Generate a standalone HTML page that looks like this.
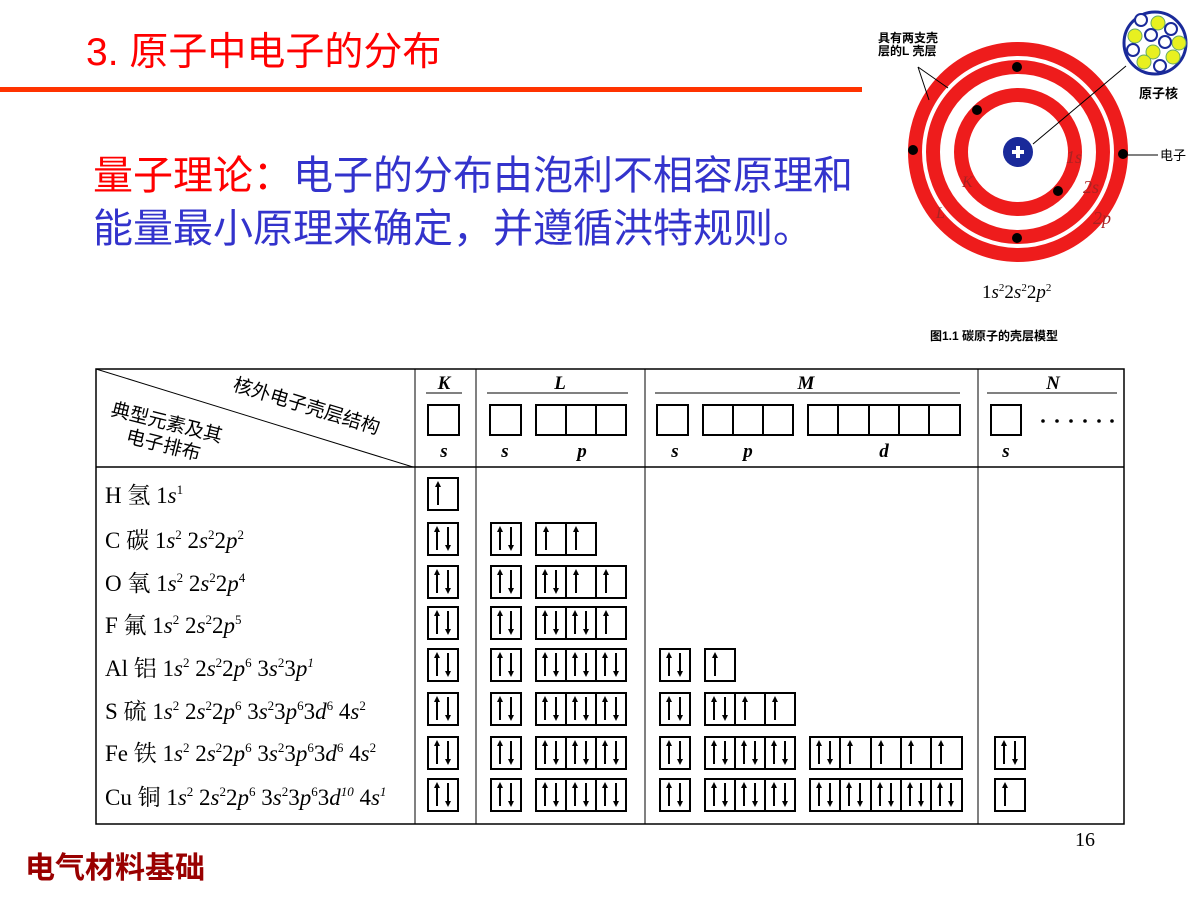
<!DOCTYPE html>
<html><head><meta charset="utf-8"><style>
body{margin:0;width:1200px;height:900px;background:#fff;overflow:hidden;position:relative}
.t{position:absolute;white-space:nowrap}
</style></head><body>
<div class="t" style="left:86px;top:21px;font:39px 'Liberation Sans','Noto Sans CJK SC',sans-serif;color:#ff0000">3. 原子中电子的分布</div>
<div style="position:absolute;left:0;top:87px;width:862px;height:5px;background:#ff3300"></div>
<div class="t" style="left:93px;top:150px;font:40px 'Liberation Sans','Noto Sans CJK SC',sans-serif;color:#3333cc;line-height:53px"><span style="color:#ff0000">量子理论：</span>电子的分布由泡利不相容原理和<br>能量最小原理来确定，并遵循洪特规则。</div>
<div class="t" style="left:25px;top:843px;font:bold 30px 'Liberation Sans','Noto Sans CJK SC',sans-serif;color:#990000">电气材料基础</div>
<div class="t" style="left:1075px;top:829px;font:20px 'Liberation Serif',serif">16</div>

<svg width="1200" height="900" style="position:absolute;left:0;top:0">
<defs>
<g id="u"><line x1="10" y1="27" x2="10" y2="7" stroke="#000" stroke-width="2"/><path d="M7,9 L10,3 L13,9Z"/></g>
<g id="ud"><line x1="9" y1="27" x2="9" y2="7" stroke="#000" stroke-width="2"/><path d="M6,9 L9,3 L12,9Z"/><line x1="20" y1="4" x2="20" y2="24" stroke="#000" stroke-width="2"/><path d="M17,22 L20,28 L23,22Z"/></g>
</defs>
<!-- atom -->
<g>
<circle cx="1018" cy="152" r="103" fill="none" stroke="#ee1c1c" stroke-width="14"/>
<circle cx="1018" cy="152" r="85" fill="none" stroke="#ee1c1c" stroke-width="14"/>
<circle cx="1018" cy="152" r="57" fill="none" stroke="#ee1c1c" stroke-width="14"/>
<circle cx="1018" cy="152" r="15" fill="#1a2a9a"/>
<path d="M1012,152h12M1018,146v12" stroke="#fff" stroke-width="4"/>
<circle cx="1017" cy="67" r="5"/><circle cx="1017" cy="238" r="5"/><circle cx="913" cy="150" r="5"/><circle cx="1123" cy="154" r="5"/><circle cx="977" cy="110" r="5"/><circle cx="1058" cy="191" r="5"/>
<line x1="1128" y1="155" x2="1158" y2="155" stroke="#000"/>
<line x1="1126" y1="66" x2="1033" y2="144" stroke="#000"/>
<line x1="918" y1="67" x2="929" y2="100" stroke="#000"/><line x1="918" y1="67" x2="948" y2="88" stroke="#000"/>
<circle cx="1155" cy="43" r="31" fill="#fff" stroke="#1a2a9a" stroke-width="3"/>
<g fill="#e8f020" stroke="#6a6"><circle cx="1158" cy="23" r="7"/><circle cx="1135" cy="36" r="7"/><circle cx="1179" cy="43" r="7"/><circle cx="1153" cy="52" r="7"/><circle cx="1173" cy="57" r="7"/><circle cx="1144" cy="62" r="7"/></g>
<g fill="#fff" stroke="#1a2a9a" stroke-width="2"><circle cx="1141" cy="20" r="6"/><circle cx="1171" cy="29" r="6"/><circle cx="1151" cy="35" r="6"/><circle cx="1165" cy="42" r="6"/><circle cx="1133" cy="50" r="6"/><circle cx="1160" cy="66" r="6"/></g>
<text x="1066" y="163" font-family="Liberation Serif" font-size="18" fill="#a22" font-style="italic">1s</text>
<text x="1083" y="193" font-family="Liberation Serif" font-size="18" fill="#a22" font-style="italic">2s</text>
<text x="1093" y="224" font-family="Liberation Serif" font-size="18" fill="#a22" font-style="italic">2p</text>
<text x="962" y="187" font-family="Liberation Serif" font-size="16" fill="#a22" font-style="italic">K</text>
<text x="936" y="218" font-family="Liberation Serif" font-size="16" fill="#a22" font-style="italic">L</text>
<text x="1160" y="160" font-family="Liberation Sans,Noto Sans CJK SC,sans-serif" font-size="13">电子</text>
<text x="1139" y="98" font-family="Liberation Sans,Noto Sans CJK SC,sans-serif" font-size="13" font-weight="bold">原子核</text>
<text x="878" y="42" font-family="Liberation Sans,Noto Sans CJK SC,sans-serif" font-size="12" font-weight="bold">具有两支壳</text>
<text x="878" y="55" font-family="Liberation Sans,Noto Sans CJK SC,sans-serif" font-size="12" font-weight="bold">层的L 壳层</text>
<text x="982" y="298" font-family="Liberation Serif" font-size="19">1<tspan font-style="italic">s</tspan><tspan font-size="11" dy="-7">2</tspan><tspan dy="7">2</tspan><tspan font-style="italic">s</tspan><tspan font-size="11" dy="-7">2</tspan><tspan dy="7">2</tspan><tspan font-style="italic">p</tspan><tspan font-size="11" dy="-7">2</tspan></text>
<text x="930" y="340" font-family="Liberation Sans,Noto Sans CJK SC,sans-serif" font-size="12" font-weight="bold">图1.1 碳原子的壳层模型</text>
</g>
<!-- table -->
<g stroke="#000" fill="none">
<rect x="96" y="369" width="1028" height="455" stroke-width="1.5"/>
<line x1="96" y1="467" x2="1124" y2="467" stroke-width="1.5"/>
<line x1="415" y1="369" x2="415" y2="824"/><line x1="476" y1="369" x2="476" y2="824"/><line x1="645" y1="369" x2="645" y2="824"/><line x1="978" y1="369" x2="978" y2="824"/>
<line x1="96" y1="369" x2="413" y2="467"/>
<line x1="426" y1="393" x2="462" y2="393"/><line x1="487" y1="393" x2="628" y2="393"/><line x1="655" y1="393" x2="960" y2="393"/><line x1="987" y1="393" x2="1117" y2="393"/>
<g stroke-width="2">
<rect x="428" y="405" width="31" height="30"/><rect x="490" y="405" width="31" height="30"/><rect x="536" y="405" width="90" height="30"/><path d="M566,405v30M596,405v30"/>
<rect x="657" y="405" width="31" height="30"/><rect x="703" y="405" width="90" height="30"/><path d="M733,405v30M763,405v30"/>
<rect x="808" y="405" width="152" height="30"/><path d="M838,405v30M869,405v30M899,405v30M929,405v30"/>
<rect x="991" y="405" width="30" height="30"/>
</g>
</g>
<g font-family="Liberation Serif" font-size="19" font-weight="bold" font-style="italic" text-anchor="middle">
<text x="444" y="389">K</text><text x="560" y="389">L</text><text x="806" y="389">M</text><text x="1053" y="389">N</text>
<text x="444" y="457">s</text><text x="505" y="457">s</text><text x="582" y="457">p</text><text x="675" y="457">s</text><text x="748" y="457">p</text><text x="884" y="457">d</text><text x="1006" y="457">s</text>
</g>
<g fill="#000"><circle cx="1043" cy="421" r="1.8"/><circle cx="1057" cy="421" r="1.8"/><circle cx="1071" cy="421" r="1.8"/><circle cx="1085" cy="421" r="1.8"/><circle cx="1099" cy="421" r="1.8"/><circle cx="1112" cy="421" r="1.8"/></g>
<g font-family="Liberation Sans,Noto Sans CJK SC,sans-serif" font-size="19">
<text transform="translate(232,390) rotate(17)">核外电子壳层结构</text>
<text transform="translate(110,415) rotate(14)">典型元素及其</text>
<text transform="translate(125,442) rotate(14)">电子排布</text>
</g>
<g font-family="Liberation Serif,Noto Serif CJK SC,serif" font-size="23">
<text x="105" y="503">H 氢 1<tspan font-style="italic">s</tspan><tspan font-size="13" dy="-9">1</tspan></text>
<text x="105" y="548">C 碳 1<tspan font-style="italic">s</tspan><tspan font-size="13" dy="-9">2</tspan><tspan dy="9"> 2</tspan><tspan font-style="italic">s</tspan><tspan font-size="13" dy="-9">2</tspan><tspan dy="9">2</tspan><tspan font-style="italic">p</tspan><tspan font-size="13" dy="-9">2</tspan></text>
<text x="105" y="591">O 氧 1<tspan font-style="italic">s</tspan><tspan font-size="13" dy="-9">2</tspan><tspan dy="9"> 2</tspan><tspan font-style="italic">s</tspan><tspan font-size="13" dy="-9">2</tspan><tspan dy="9">2</tspan><tspan font-style="italic">p</tspan><tspan font-size="13" dy="-9">4</tspan></text>
<text x="105" y="633">F 氟 1<tspan font-style="italic">s</tspan><tspan font-size="13" dy="-9">2</tspan><tspan dy="9"> 2</tspan><tspan font-style="italic">s</tspan><tspan font-size="13" dy="-9">2</tspan><tspan dy="9">2</tspan><tspan font-style="italic">p</tspan><tspan font-size="13" dy="-9">5</tspan></text>
<text x="105" y="676">Al 铝 1<tspan font-style="italic">s</tspan><tspan font-size="13" dy="-9">2</tspan><tspan dy="9"> 2</tspan><tspan font-style="italic">s</tspan><tspan font-size="13" dy="-9">2</tspan><tspan dy="9">2</tspan><tspan font-style="italic">p</tspan><tspan font-size="13" dy="-9">6</tspan><tspan dy="9"> 3</tspan><tspan font-style="italic">s</tspan><tspan font-size="13" dy="-9">2</tspan><tspan dy="9">3</tspan><tspan font-style="italic">p</tspan><tspan font-size="13" dy="-9" font-style="italic">1</tspan></text>
<text x="105" y="719">S 硫 1<tspan font-style="italic">s</tspan><tspan font-size="13" dy="-9">2</tspan><tspan dy="9"> 2</tspan><tspan font-style="italic">s</tspan><tspan font-size="13" dy="-9">2</tspan><tspan dy="9">2</tspan><tspan font-style="italic">p</tspan><tspan font-size="13" dy="-9">6</tspan><tspan dy="9"> 3</tspan><tspan font-style="italic">s</tspan><tspan font-size="13" dy="-9">2</tspan><tspan dy="9">3</tspan><tspan font-style="italic">p</tspan><tspan font-size="13" dy="-9">6</tspan><tspan dy="9">3</tspan><tspan font-style="italic">d</tspan><tspan font-size="13" dy="-9">6</tspan><tspan dy="9"> 4</tspan><tspan font-style="italic">s</tspan><tspan font-size="13" dy="-9">2</tspan></text>
<text x="105" y="761">Fe 铁 1<tspan font-style="italic">s</tspan><tspan font-size="13" dy="-9">2</tspan><tspan dy="9"> 2</tspan><tspan font-style="italic">s</tspan><tspan font-size="13" dy="-9">2</tspan><tspan dy="9">2</tspan><tspan font-style="italic">p</tspan><tspan font-size="13" dy="-9">6</tspan><tspan dy="9"> 3</tspan><tspan font-style="italic">s</tspan><tspan font-size="13" dy="-9">2</tspan><tspan dy="9">3</tspan><tspan font-style="italic">p</tspan><tspan font-size="13" dy="-9">6</tspan><tspan dy="9">3</tspan><tspan font-style="italic">d</tspan><tspan font-size="13" dy="-9">6</tspan><tspan dy="9"> 4</tspan><tspan font-style="italic">s</tspan><tspan font-size="13" dy="-9">2</tspan></text>
<text x="105" y="805">Cu 铜 1<tspan font-style="italic">s</tspan><tspan font-size="13" dy="-9">2</tspan><tspan dy="9"> 2</tspan><tspan font-style="italic">s</tspan><tspan font-size="13" dy="-9">2</tspan><tspan dy="9">2</tspan><tspan font-style="italic">p</tspan><tspan font-size="13" dy="-9">6</tspan><tspan dy="9"> 3</tspan><tspan font-style="italic">s</tspan><tspan font-size="13" dy="-9">2</tspan><tspan dy="9">3</tspan><tspan font-style="italic">p</tspan><tspan font-size="13" dy="-9">6</tspan><tspan dy="9">3</tspan><tspan font-style="italic">d</tspan><tspan font-size="13" dy="-9" font-style="italic">10</tspan><tspan dy="9"> 4</tspan><tspan font-style="italic">s</tspan><tspan font-size="13" dy="-9" font-style="italic">1</tspan></text>
</g>
<g stroke="#000" stroke-width="2" fill="none">
<rect x="428" y="478" width="30" height="32"/>
<rect x="428" y="523" width="30" height="32"/><rect x="491" y="523" width="30" height="32"/><rect x="536" y="523" width="60" height="32"/><path d="M566,523v32"/>
<rect x="428" y="566" width="30" height="32"/><rect x="491" y="566" width="30" height="32"/><rect x="536" y="566" width="90" height="32"/><path d="M566,566v32M596,566v32"/>
<rect x="428" y="607" width="30" height="32"/><rect x="491" y="607" width="30" height="32"/><rect x="536" y="607" width="90" height="32"/><path d="M566,607v32M596,607v32"/>
<rect x="428" y="649" width="30" height="32"/><rect x="491" y="649" width="30" height="32"/><rect x="536" y="649" width="90" height="32"/><path d="M566,649v32M596,649v32"/>
<rect x="660" y="649" width="30" height="32"/><rect x="705" y="649" width="30" height="32"/>
<rect x="428" y="693" width="30" height="32"/><rect x="491" y="693" width="30" height="32"/><rect x="536" y="693" width="90" height="32"/><path d="M566,693v32M596,693v32"/>
<rect x="660" y="693" width="30" height="32"/><rect x="705" y="693" width="90" height="32"/><path d="M735,693v32M765,693v32"/>
<rect x="428" y="737" width="30" height="32"/><rect x="491" y="737" width="30" height="32"/><rect x="536" y="737" width="90" height="32"/><path d="M566,737v32M596,737v32"/>
<rect x="660" y="737" width="30" height="32"/><rect x="705" y="737" width="90" height="32"/><path d="M735,737v32M765,737v32"/>
<rect x="810" y="737" width="152" height="32"/><path d="M840,737v32M871,737v32M901,737v32M931,737v32"/><rect x="995" y="737" width="30" height="32"/>
<rect x="428" y="779" width="30" height="32"/><rect x="491" y="779" width="30" height="32"/><rect x="536" y="779" width="90" height="32"/><path d="M566,779v32M596,779v32"/>
<rect x="660" y="779" width="30" height="32"/><rect x="705" y="779" width="90" height="32"/><path d="M735,779v32M765,779v32"/>
<rect x="810" y="779" width="152" height="32"/><path d="M840,779v32M871,779v32M901,779v32M931,779v32"/><rect x="995" y="779" width="30" height="32"/>
</g>
<g>
<use href="#u" x="428" y="478"/>
<use href="#ud" x="428" y="523"/><use href="#ud" x="491" y="523"/><use href="#u" x="536" y="523"/><use href="#u" x="566" y="523"/>
<use href="#ud" x="428" y="566"/><use href="#ud" x="491" y="566"/><use href="#ud" x="536" y="566"/><use href="#u" x="566" y="566"/><use href="#u" x="596" y="566"/>
<use href="#ud" x="428" y="607"/><use href="#ud" x="491" y="607"/><use href="#ud" x="536" y="607"/><use href="#ud" x="566" y="607"/><use href="#u" x="596" y="607"/>
<use href="#ud" x="428" y="649"/><use href="#ud" x="491" y="649"/><use href="#ud" x="536" y="649"/><use href="#ud" x="566" y="649"/><use href="#ud" x="596" y="649"/><use href="#ud" x="660" y="649"/><use href="#u" x="705" y="649"/>
<use href="#ud" x="428" y="693"/><use href="#ud" x="491" y="693"/><use href="#ud" x="536" y="693"/><use href="#ud" x="566" y="693"/><use href="#ud" x="596" y="693"/><use href="#ud" x="660" y="693"/><use href="#ud" x="705" y="693"/><use href="#u" x="735" y="693"/><use href="#u" x="765" y="693"/>
<use href="#ud" x="428" y="737"/><use href="#ud" x="491" y="737"/><use href="#ud" x="536" y="737"/><use href="#ud" x="566" y="737"/><use href="#ud" x="596" y="737"/><use href="#ud" x="660" y="737"/><use href="#ud" x="705" y="737"/><use href="#ud" x="735" y="737"/><use href="#ud" x="765" y="737"/><use href="#ud" x="810" y="737"/><use href="#u" x="840" y="737"/><use href="#u" x="871" y="737"/><use href="#u" x="901" y="737"/><use href="#u" x="931" y="737"/><use href="#ud" x="995" y="737"/>
<use href="#ud" x="428" y="779"/><use href="#ud" x="491" y="779"/><use href="#ud" x="536" y="779"/><use href="#ud" x="566" y="779"/><use href="#ud" x="596" y="779"/><use href="#ud" x="660" y="779"/><use href="#ud" x="705" y="779"/><use href="#ud" x="735" y="779"/><use href="#ud" x="765" y="779"/><use href="#ud" x="810" y="779"/><use href="#ud" x="840" y="779"/><use href="#ud" x="871" y="779"/><use href="#ud" x="901" y="779"/><use href="#ud" x="931" y="779"/><use href="#u" x="995" y="779"/>
</g>
</svg>
</body></html>
